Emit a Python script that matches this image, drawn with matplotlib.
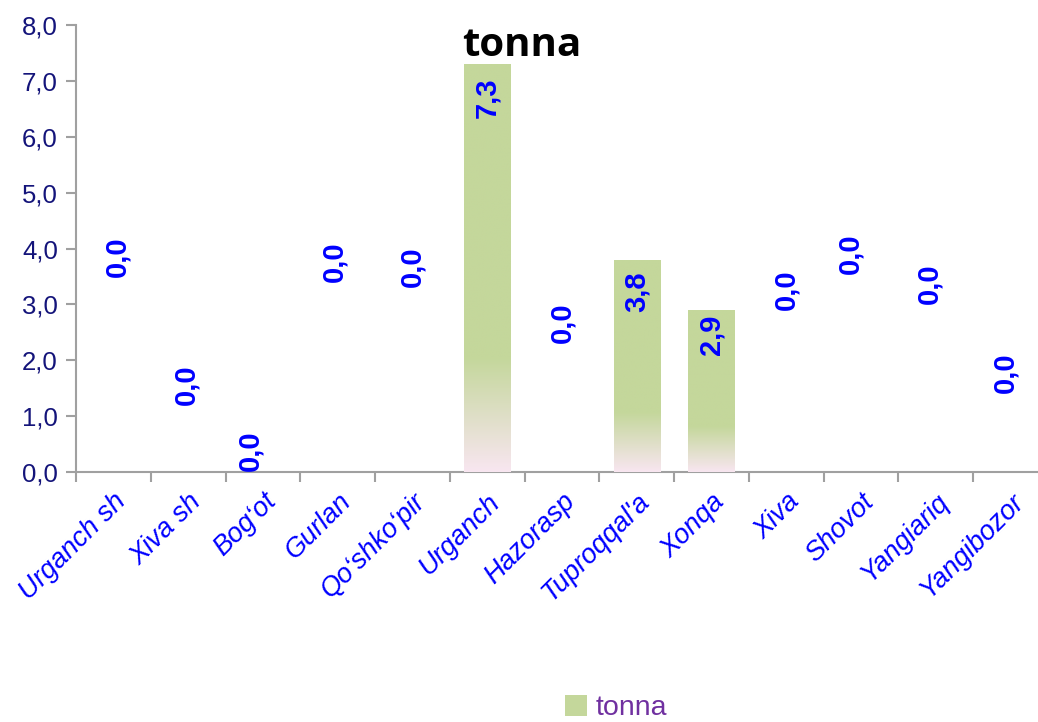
import matplotlib
matplotlib.use("Agg")
import matplotlib.pyplot as plt
import numpy as np
from matplotlib.ticker import FuncFormatter
from matplotlib.patches import Patch

## data
regions = ["Urganch sh", "Xiva sh", "Bog\u2018ot", "Gurlan", "Qo\u2018shko\u2018pir",
           "Urganch", "Hazorasp", "Tuproqqal'a", "Xonqa", "Xiva", "Shovot",
           "Yangiariq", "Yangibozor"]
tonna = [0.0, 0.0, 0.0, 0.0, 0.0, 7.3, 0.0, 3.8, 2.9, 0.0, 0.0, 0.0, 0.0]

## where the value labels sit (data units)
label_y = [3.85, 1.56, 0.39, 3.76, 3.67, 6.70, 2.67, 3.22, 2.45, 3.27, 3.90, 3.37, 1.77]
label_dx = [0.05, -0.02, -0.17, -0.04, 0.0, 0.0, 0.01, 0.0, 0.0, 0.0, -0.14, -0.08, -0.07]

green = np.array([0xC4, 0xD7, 0x9B]) / 255.0
pink = np.array([0xF8, 0xE6, 0xF0]) / 255.0
gray = "#A0A0A0"

plt.rcParams['font.family'] = ['Liberation Sans', 'DejaVu Sans']

fig = plt.figure(figsize=(10.38, 7.22), dpi=100)
ax = fig.add_axes([76/1038, 1-472/722, 972/1038, 447/722])

x = np.arange(len(regions))
bars = ax.bar(x, tonna, width=0.62, color=green, zorder=2)

## gradient fill: pink at the bottom, green from ~28% of the bar height up
n = 200
f = np.linspace(0, 1, n)
t = np.clip(f / 0.28, 0, 1)
grad = (pink[None, :] * (1 - t[:, None]) + green[None, :] * t[:, None])[:, None, :]
for b in bars:
    h = b.get_height()
    if h <= 0:
        continue
    im = ax.imshow(grad, extent=[b.get_x(), b.get_x() + b.get_width(), 0, h],
                   origin="lower", aspect="auto", zorder=3, interpolation="bilinear")
    im.set_clip_path(b)

for i, v in enumerate(tonna):
    ax.text(x[i] + label_dx[i], label_y[i], ("%.1f" % v).replace(".", ","),
            rotation=90, ha="center", va="center", color="#0000FF",
            fontsize=21, fontweight="bold", zorder=5)

ax.set_xlim(-0.5, len(regions) - 0.5)
ax.set_ylim(0, 8)
ax.set_yticks(np.arange(0, 9, 1))
ax.yaxis.set_major_formatter(FuncFormatter(lambda v, p: ("%.1f" % v).replace(".", ",")))

ax.set_xticks(np.arange(-0.5, len(regions), 1))
ax.set_xticklabels([])
ax.set_xticks(x, minor=True)
ax.set_xticklabels(regions, minor=True, rotation=45, ha="right", va="top",
                   rotation_mode="anchor", color="#0000FF", fontsize=19.5,
                   fontstyle="italic")
ax.tick_params(axis="x", which="minor", length=0, pad=12)
ax.tick_params(axis="x", which="major", length=7, width=1.5, color=gray)
ax.tick_params(axis="y", length=7, width=1.5, color=gray, labelcolor="#14147A",
               labelsize=18.5, pad=6)

for s in ["top", "right"]:
    ax.spines[s].set_visible(False)
for s in ["left", "bottom"]:
    ax.spines[s].set_color(gray)
    ax.spines[s].set_linewidth(1.5)

fig.text(0.503, 1 - 46/722, "tonna", ha="center", va="center", fontsize=29,
         fontweight="bold", family="Open Sans")

leg = fig.legend(handles=[Patch(facecolor=green, edgecolor="none")], labels=["tonna"],
                 loc="center", bbox_to_anchor=(616/1038, 1 - 708/722), frameon=False,
                 fontsize=20.5, handlelength=0.75, handleheight=0.75, handletextpad=0.3)
for txt in leg.get_texts():
    txt.set_color("#7030A0")

fig.savefig("out.png", dpi=100)
